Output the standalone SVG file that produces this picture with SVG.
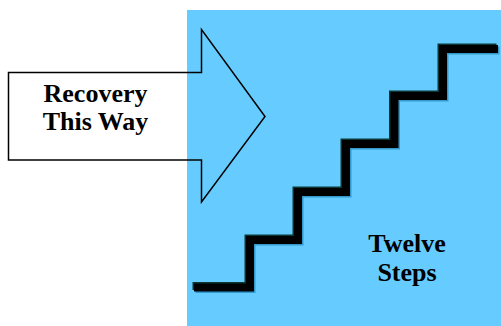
<svg xmlns="http://www.w3.org/2000/svg" width="501" height="326" viewBox="0 0 501 326">
<style>
.lbl{font-family:"Liberation Serif","Times New Roman",serif;font-weight:bold;font-size:26px;fill:#000;text-anchor:middle}
.stair{fill:none;stroke-width:8;stroke-linejoin:miter;stroke-linecap:butt}
</style>
<defs>
<path id="stairPath" d="M194,287.5 H250 V240 H298 V192 H346 V144 H394.5 V96 H443 V49 H498"/>
</defs>
<rect x="187" y="10" width="314" height="316" fill="#66CCFF"/>
<g id="stairs">
<use href="#stairPath" class="stair" stroke="#3399CC" transform="translate(1.5,1.5)"/>
<use href="#stairPath" class="stair" stroke="#0A3636" transform="translate(-1.5,-1.5)"/>
<use href="#stairPath" class="stair" stroke="#000"/>
</g>
<g id="arrow">
<polygon points="8.5,72.5 201.5,72.5 201.5,29.5 265,116.5 201.5,202 201.5,160 8.5,160" fill="none" stroke="#000" stroke-width="1.5"/>
<text class="lbl" x="95.5" y="102">Recovery</text>
<text class="lbl" x="95.5" y="130">This Way</text>
</g>
<g id="steps-label">
<text class="lbl" x="407" y="252">Twelve</text>
<text class="lbl" x="407" y="281">Steps</text>
</g>
</svg>
